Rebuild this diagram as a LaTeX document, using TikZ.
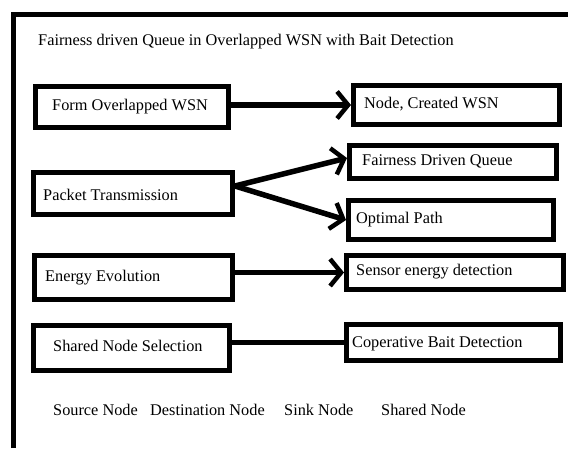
\documentclass[tikz,border=0pt]{standalone}
\usepackage{fontspec}
\setmainfont{Liberation Serif}
\usetikzlibrary{arrows.meta}
\tikzset{
  box/.style={draw=black, line width=5pt, rectangle, inner sep=0pt},
  txt/.style={anchor=west, inner sep=0pt, font=\fontsize{16.3}{19}\selectfont, text height=11pt, text depth=3.5pt},
  arr/.style={line width=5.5pt, -{Straight Barb[length=11pt,width=27pt,line width=4.5pt]}},
  link/.style={line width=5pt, line cap=round}
}
\begin{document}
\begin{tikzpicture}[x=1pt,y=-1pt]
\useasboundingbox[fill=white] (0,0) rectangle (568,448);
% frame
\draw[line width=5.5pt] (13.5,448) -- (13.5,14.5) -- (568,14.5);
% title
\node[txt] (title) at (38,42) {Fairness driven Queue in Overlapped WSN with Bait Detection};
% boxes
\node[box, minimum width=193pt, minimum height=41pt] (b1) at (132,107) {};
\node[box, minimum width=206pt, minimum height=39pt] (b2) at (456.5,105) {};
\node[box, minimum width=207pt, minimum height=33pt] (fair) at (453,162) {};
\node[box, minimum width=199pt, minimum height=42pt] (pack) at (133,193.5) {};
\node[box, minimum width=205pt, minimum height=39pt] (opt) at (451,220) {};
\node[box, minimum width=198pt, minimum height=44pt] (ener) at (133.5,277.5) {};
\node[box, minimum width=217pt, minimum height=34pt] (sens) at (455,272.5) {};
\node[box, minimum width=196pt, minimum height=45pt] (shar) at (131.5,348) {};
\node[box, minimum width=214pt, minimum height=36pt] (coop) at (453.5,342.5) {};
% texts
\node[txt] (t1) at (52,107) {Form Overlapped WSN};
\node[txt] (t2) at (364,105) {Node, Created WSN};
\node[txt] (t3) at (362,162) {Fairness Driven Queue};
\node[txt] (t4) at (43,197) {Packet Transmission};
\node[txt] (t5) at (356,220) {Optimal Path};
\node[txt] (t6) at (45,278) {Energy Evolution};
\node[txt] (t7) at (356,272) {Sensor energy detection};
\node[txt] (t8) at (53,348) {Shared Node Selection};
\node[txt] (t9) at (352,344) {Coperative Bait Detection};
\node[txt] (l1) at (53,412) {Source Node};
\node[txt] (l2) at (150,412) {Destination Node};
\node[txt] (l3) at (284,412) {Sink Node};
\node[txt] (l4) at (381,412) {Shared Node};
% connectors
\draw[arr] (b1.east |- b2.west) -- (b2.west);
\draw[arr] ([yshift=7.5pt]pack.east) -- ([yshift=4pt]fair.west);
\draw[arr] ([yshift=7.5pt]pack.east) -- (opt.west);
\draw[arr] (ener.east |- sens.west) -- (sens.west);
\draw[link] (shar.east |- coop.west) -- (coop.west);
\end{tikzpicture}
\end{document}
